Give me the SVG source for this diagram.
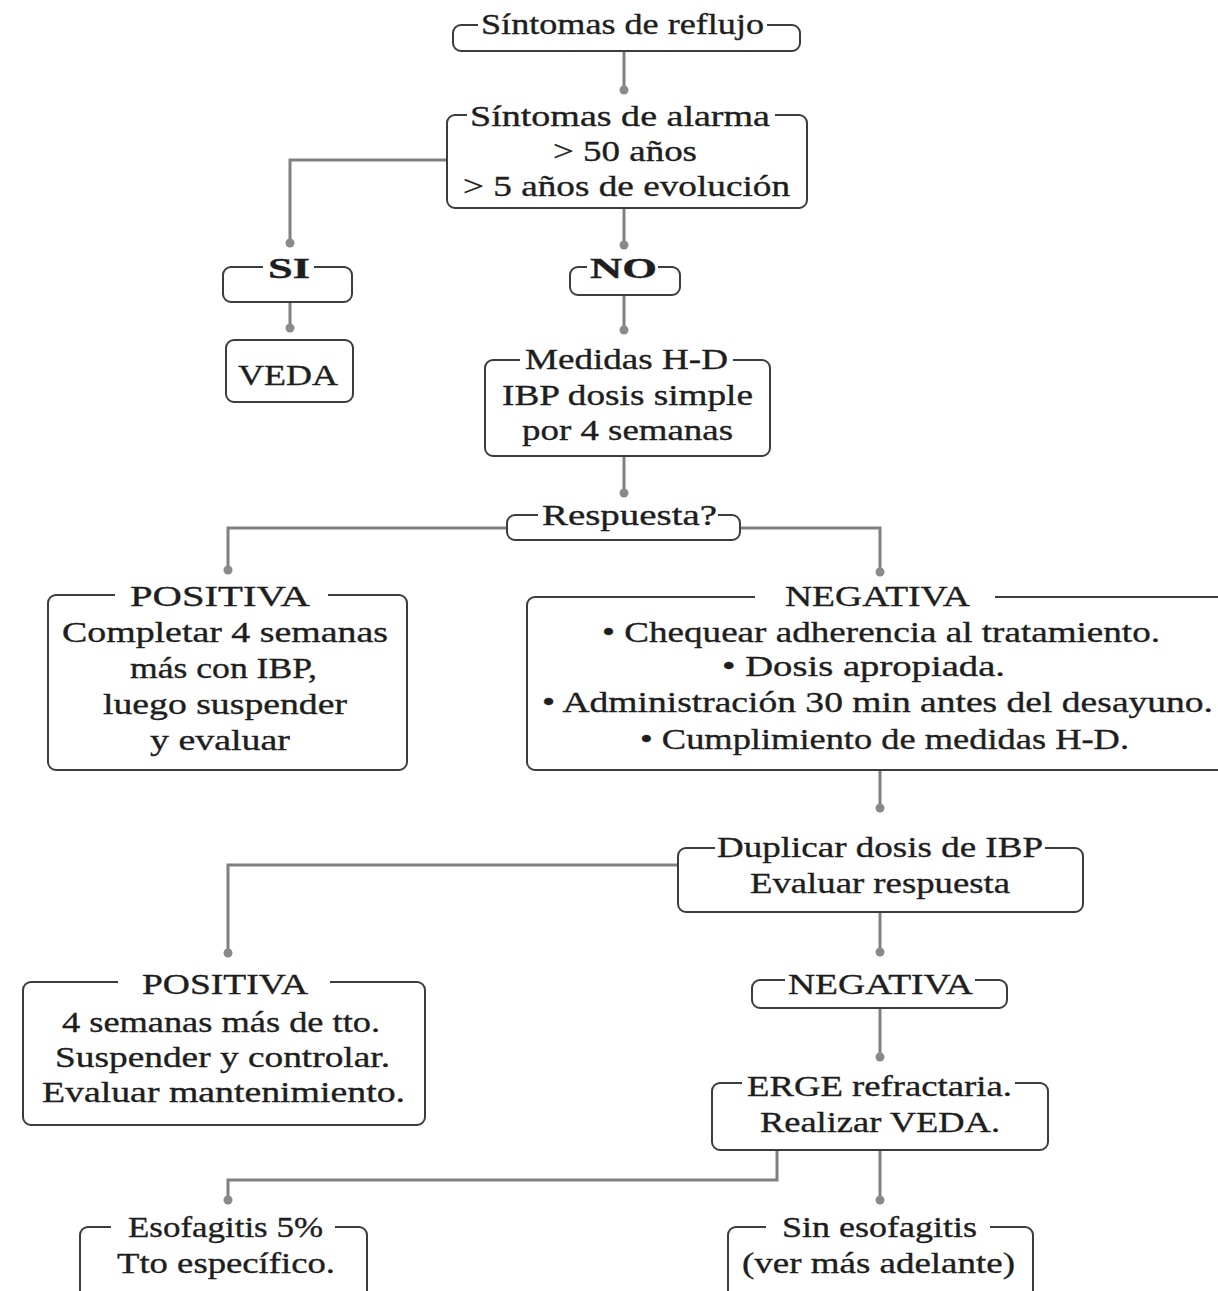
<svg xmlns="http://www.w3.org/2000/svg" width="1218" height="1291" viewBox="0 0 1218 1291">
<style>
.box{fill:none;stroke:#3c3c3c;stroke-width:2}
.t{font-family:"Liberation Serif",serif;font-size:29px;fill:#1e1e1e;stroke:#1e1e1e;stroke-width:0.35}
.b{font-weight:bold}
.c{fill:none;stroke:#808080;stroke-width:3}
.d{fill:#8a8a8a}
</style>
<rect width="1218" height="1291" fill="#ffffff"/>
<g id="connectors">
<path class="c" d="M624,51 V90"/>
<path class="c" d="M447,160 H290 V243"/>
<path class="c" d="M624,208 V245"/>
<path class="c" d="M290,302 V328"/>
<path class="c" d="M624,295 V330"/>
<path class="c" d="M624,456 V493"/>
<path class="c" d="M507,528 H228 V570"/>
<path class="c" d="M740,528 H880 V572"/>
<path class="c" d="M880,770 V808"/>
<path class="c" d="M678,865 H228 V953"/>
<path class="c" d="M880,912 V952"/>
<path class="c" d="M880,1008 V1057"/>
<path class="c" d="M777,1150 V1180 H228 V1200"/>
<path class="c" d="M880,1150 V1200"/>
<circle class="d" cx="624" cy="90" r="4.5"/>
<circle class="d" cx="290" cy="243" r="4.5"/>
<circle class="d" cx="624" cy="245" r="4.5"/>
<circle class="d" cx="290" cy="328" r="4.5"/>
<circle class="d" cx="624" cy="330" r="4.5"/>
<circle class="d" cx="624" cy="493" r="4.5"/>
<circle class="d" cx="228" cy="570" r="4.5"/>
<circle class="d" cx="880" cy="572" r="4.5"/>
<circle class="d" cx="880" cy="808" r="4.5"/>
<circle class="d" cx="228" cy="953" r="4.5"/>
<circle class="d" cx="880" cy="952" r="4.5"/>
<circle class="d" cx="880" cy="1057" r="4.5"/>
<circle class="d" cx="228" cy="1200" r="4.5"/>
<circle class="d" cx="880" cy="1200" r="4.5"/>
</g>
<g id="n-reflujo">
<path class="box" d="M478,25 H461 A8,8 0 0 0 453,33 V43 A8,8 0 0 0 461,51 H792 A8,8 0 0 0 800,43 V33 A8,8 0 0 0 792,25 H767"/>
<text class="t" x="481" y="34" textLength="283" lengthAdjust="spacingAndGlyphs">Síntomas de reflujo</text>
</g>
<g id="n-alarma">
<path class="box" d="M467,115 H455 A8,8 0 0 0 447,123 V200 A8,8 0 0 0 455,208 H799 A8,8 0 0 0 807,200 V123 A8,8 0 0 0 799,115 H775"/>
<text class="t" x="470" y="126" textLength="300" lengthAdjust="spacingAndGlyphs">Síntomas de alarma</text>
<text class="t" x="553" y="161" textLength="144" lengthAdjust="spacingAndGlyphs">&gt; 50 años</text>
<text class="t" x="463" y="196" textLength="327" lengthAdjust="spacingAndGlyphs">&gt; 5 años de evolución</text>
</g>
<g id="n-si">
<path class="box" d="M263,267 H231 A8,8 0 0 0 223,275 V294 A8,8 0 0 0 231,302 H344 A8,8 0 0 0 352,294 V275 A8,8 0 0 0 344,267 H314"/>
<text class="t b" x="268" y="278" textLength="42" lengthAdjust="spacingAndGlyphs">SI</text>
</g>
<g id="n-veda">
<rect class="box" x="226" y="340" width="127" height="62" rx="8"/>
<text class="t" x="238" y="385" textLength="100" lengthAdjust="spacingAndGlyphs">VEDA</text>
</g>
<g id="n-no">
<path class="box" d="M587,267 H578 A8,8 0 0 0 570,275 V287 A8,8 0 0 0 578,295 H672 A8,8 0 0 0 680,287 V275 A8,8 0 0 0 672,267 H658"/>
<text class="t b" x="590" y="278" textLength="67" lengthAdjust="spacingAndGlyphs">NO</text>
</g>
<g id="n-medidas">
<path class="box" d="M520,360 H493 A8,8 0 0 0 485,368 V448 A8,8 0 0 0 493,456 H762 A8,8 0 0 0 770,448 V368 A8,8 0 0 0 762,360 H733"/>
<text class="t" x="525" y="369" textLength="203" lengthAdjust="spacingAndGlyphs">Medidas H-D</text>
<text class="t" x="502" y="405" textLength="251" lengthAdjust="spacingAndGlyphs">IBP dosis simple</text>
<text class="t" x="522" y="440" textLength="211" lengthAdjust="spacingAndGlyphs">por 4 semanas</text>
</g>
<g id="n-respuesta">
<path class="box" d="M538,515 H515 A8,8 0 0 0 507,523 V532 A8,8 0 0 0 515,540 H732 A8,8 0 0 0 740,532 V523 A8,8 0 0 0 732,515 H718"/>
<text class="t" x="542" y="525" textLength="175" lengthAdjust="spacingAndGlyphs">Respuesta?</text>
</g>
<g id="n-positiva1">
<path class="box" d="M115,595 H56 A8,8 0 0 0 48,603 V762 A8,8 0 0 0 56,770 H399 A8,8 0 0 0 407,762 V603 A8,8 0 0 0 399,595 H328"/>
<text class="t" x="130" y="606" textLength="180" lengthAdjust="spacingAndGlyphs">POSITIVA</text>
<text class="t" x="62" y="642" textLength="326" lengthAdjust="spacingAndGlyphs">Completar 4 semanas</text>
<text class="t" x="130" y="678" textLength="187" lengthAdjust="spacingAndGlyphs">más con IBP,</text>
<text class="t" x="103" y="714" textLength="244" lengthAdjust="spacingAndGlyphs">luego suspender</text>
<text class="t" x="150" y="750" textLength="140" lengthAdjust="spacingAndGlyphs">y evaluar</text>
</g>
<g id="n-negativa1">
<path class="box" d="M755,597 H535 A8,8 0 0 0 527,605 V762 A8,8 0 0 0 535,770 H1230 M995,597 H1230"/>
<text class="t" x="785" y="606" textLength="185" lengthAdjust="spacingAndGlyphs">NEGATIVA</text>
<text class="t" x="602" y="642" textLength="558" lengthAdjust="spacingAndGlyphs">• Chequear adherencia al tratamiento.</text>
<text class="t" x="722" y="676" textLength="283" lengthAdjust="spacingAndGlyphs">• Dosis apropiada.</text>
<text class="t" x="542" y="712" textLength="671" lengthAdjust="spacingAndGlyphs">• Administración 30 min antes del desayuno.</text>
<text class="t" x="640" y="749" textLength="489" lengthAdjust="spacingAndGlyphs">• Cumplimiento de medidas H-D.</text>
</g>
<g id="n-duplicar">
<path class="box" d="M715,848 H686 A8,8 0 0 0 678,856 V904 A8,8 0 0 0 686,912 H1075 A8,8 0 0 0 1083,904 V856 A8,8 0 0 0 1075,848 H1045"/>
<text class="t" x="717" y="857" textLength="326" lengthAdjust="spacingAndGlyphs">Duplicar dosis de IBP</text>
<text class="t" x="750" y="893" textLength="260" lengthAdjust="spacingAndGlyphs">Evaluar respuesta</text>
</g>
<g id="n-positiva2">
<path class="box" d="M118,982 H31 A8,8 0 0 0 23,990 V1117 A8,8 0 0 0 31,1125 H417 A8,8 0 0 0 425,1117 V990 A8,8 0 0 0 417,982 H330"/>
<text class="t" x="142" y="994" textLength="166" lengthAdjust="spacingAndGlyphs">POSITIVA</text>
<text class="t" x="62" y="1032" textLength="318" lengthAdjust="spacingAndGlyphs">4 semanas más de tto.</text>
<text class="t" x="55" y="1067" textLength="335" lengthAdjust="spacingAndGlyphs">Suspender y controlar.</text>
<text class="t" x="42" y="1102" textLength="363" lengthAdjust="spacingAndGlyphs">Evaluar mantenimiento.</text>
</g>
<g id="n-negativa2">
<path class="box" d="M785,980 H760 A8,8 0 0 0 752,988 V1000 A8,8 0 0 0 760,1008 H999 A8,8 0 0 0 1007,1000 V988 A8,8 0 0 0 999,980 H975"/>
<text class="t" x="788" y="994" textLength="185" lengthAdjust="spacingAndGlyphs">NEGATIVA</text>
</g>
<g id="n-erge">
<path class="box" d="M742,1083 H720 A8,8 0 0 0 712,1091 V1142 A8,8 0 0 0 720,1150 H1040 A8,8 0 0 0 1048,1142 V1091 A8,8 0 0 0 1040,1083 H1015"/>
<text class="t" x="747" y="1096" textLength="265" lengthAdjust="spacingAndGlyphs">ERGE refractaria.</text>
<text class="t" x="760" y="1132" textLength="240" lengthAdjust="spacingAndGlyphs">Realizar VEDA.</text>
</g>
<g id="n-esofagitis">
<path class="box" d="M111,1227 H88 A8,8 0 0 0 80,1235 V1300 M367,1300 V1235 A8,8 0 0 0 359,1227 H335"/>
<text class="t" x="128" y="1237" textLength="195" lengthAdjust="spacingAndGlyphs">Esofagitis 5%</text>
<text class="t" x="117" y="1273" textLength="218" lengthAdjust="spacingAndGlyphs">Tto específico.</text>
</g>
<g id="n-sin">
<path class="box" d="M766,1227 H736 A8,8 0 0 0 728,1235 V1300 M1033,1300 V1235 A8,8 0 0 0 1025,1227 H990"/>
<text class="t" x="782" y="1237" textLength="195" lengthAdjust="spacingAndGlyphs">Sin esofagitis</text>
<text class="t" x="742" y="1273" textLength="273" lengthAdjust="spacingAndGlyphs">(ver más adelante)</text>
</g>
</svg>
